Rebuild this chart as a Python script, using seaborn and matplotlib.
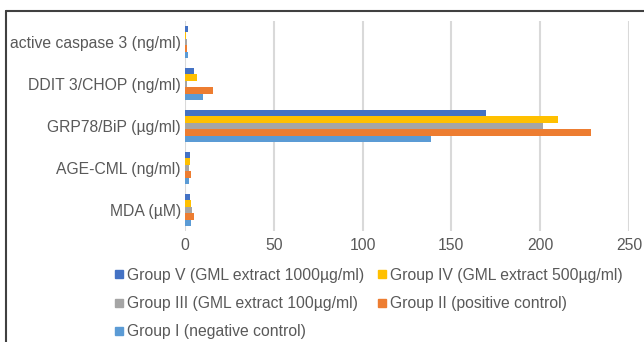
import matplotlib
matplotlib.use('Agg')
import matplotlib.pyplot as plt
import numpy as np
import pandas as pd
import seaborn as sns
from matplotlib.lines import Line2D

# categories top to bottom
MARKERS = ['active caspase 3 (ng/ml)', 'DDIT 3/CHOP (ng/ml)', 'GRP78/BiP (µg/ml)',
           'AGE-CML (ng/ml)', 'MDA (µM)']
GROUPS = ['Group V (GML extract 1000µg/ml)', 'Group IV (GML extract 500µg/ml)',
          'Group III (GML extract 100µg/ml)', 'Group II (positive control)',
          'Group I (negative control)']
COLORS = ['#4472C4', '#FFC000', '#A5A5A5', '#ED7D31', '#5B9BD5']

# values per group, in MARKERS order
group_v = [1.5, 4.9, 169.5, 2.6, 2.6]
group_iv = [0.8, 6.6, 210.0, 2.6, 3.2]
group_iii = [1.2, 1.0, 201.6, 2.1, 3.8]
group_ii = [1.2, 16.0, 228.6, 3.2, 4.9]
group_i = [1.8, 10.4, 138.5, 2.1, 3.2]

TEXT = '#595959'
FS = 11.3

df = pd.DataFrame({
    'marker': MARKERS * 5,
    'group': np.repeat(GROUPS, len(MARKERS)),
    'value': group_v + group_iv + group_iii + group_ii + group_i,
})

sns.set_theme(style='white')
plt.rcParams['font.family'] = ['Liberation Sans', 'DejaVu Sans']

fig = plt.figure(figsize=(6.44, 3.42), dpi=100)
ax = fig.add_axes([185 / 644, 1 - 231 / 342, 444 / 644, 210 / 342])

sns.barplot(data=df, y='marker', x='value', hue='group', order=MARKERS,
            hue_order=GROUPS, palette=COLORS, orient='h', width=0.76,
            saturation=1, linewidth=0, legend=False, ax=ax)

ax.set_xlim(0, 250)
ax.set_ylim(4.5, -0.5)
ax.set_xticks(np.arange(0, 251, 50))
ax.grid(axis='x', color='#D9D9D9', lw=1.5)
ax.set_axisbelow(True)
for s in ax.spines.values():
    s.set_visible(False)
ax.set_xlabel('')
ax.set_ylabel('')
ax.tick_params(axis='both', length=0, labelsize=FS, labelcolor=TEXT)
ax.tick_params(axis='x', pad=5)
ax.tick_params(axis='y', pad=3)

# legend, filled row-wise in 2 columns
handles = [Line2D([], [], marker='s', ls='', color=c, markersize=5.3) for c in COLORS]
order = [0, 2, 4, 1, 3]
fig.legend([handles[i] for i in order], [GROUPS[i] for i in order],
           loc='upper left', bbox_to_anchor=(107 / 644, 1 - 260 / 342),
           ncol=2, frameon=False, fontsize=11.3, labelcolor=TEXT,
           handlelength=0.55, handletextpad=0.25, columnspacing=0.85,
           labelspacing=0.84, borderpad=0)

# chart frame
fig.add_artist(Line2D([6 / 644, 1], [1 - 11 / 342, 1 - 11 / 342], color='#404040', lw=1.5))
fig.add_artist(Line2D([6 / 644, 6 / 644], [0, 1 - 11 / 342], color='#404040', lw=1.5))

fig.savefig('out.png', dpi=100)
